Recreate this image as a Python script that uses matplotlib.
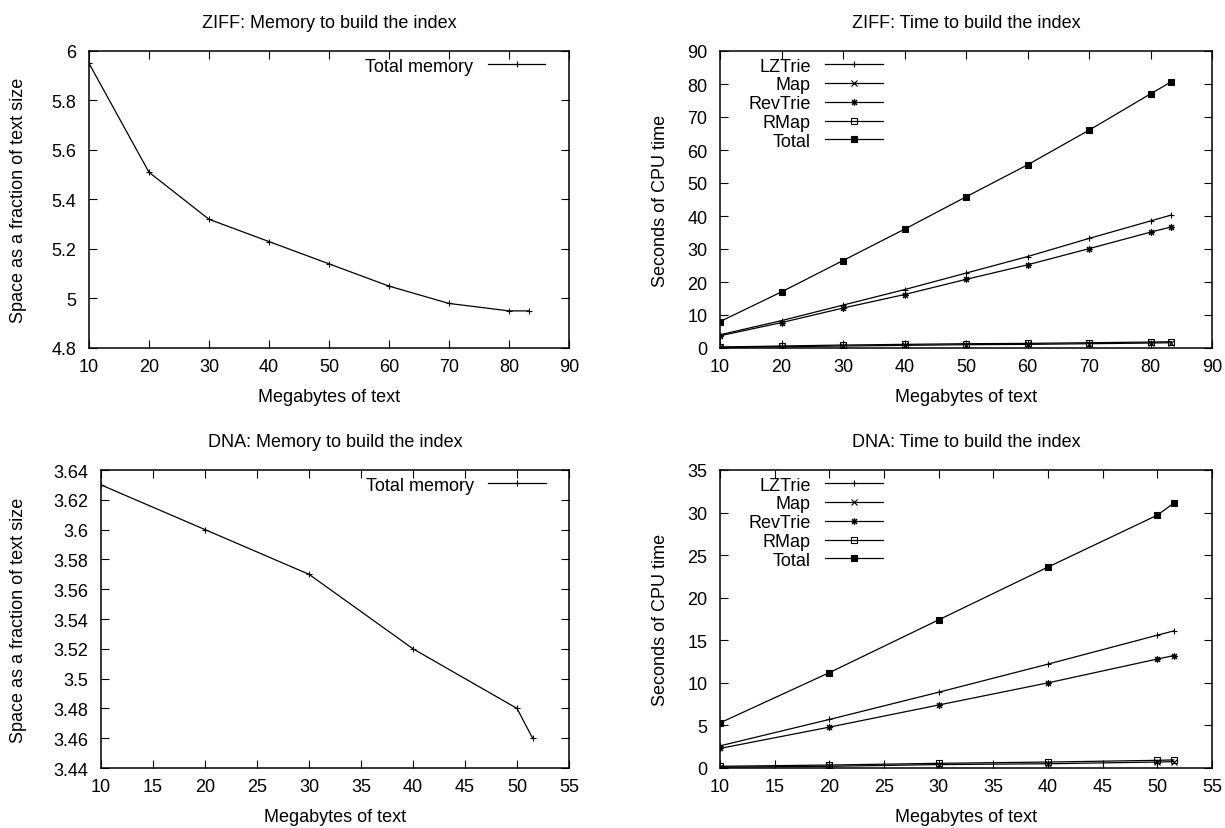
import numpy as np
import matplotlib
matplotlib.use("Agg")
import matplotlib.pyplot as plt
from matplotlib.ticker import FormatStrFormatter, MultipleLocator

plt.rcParams['font.family'] = ['Liberation Sans', 'DejaVu Sans']
plt.rcParams['font.size'] = 13

# ZIFF collection
ziff_mb = [10, 20, 30, 40, 50, 60, 70, 80, 83.4]
ziff_mem = [5.95, 5.51, 5.32, 5.23, 5.14, 5.05, 4.98, 4.95, 4.95]
ziff_lztrie = [4.0, 8.3, 13.0, 17.7, 22.7, 27.7, 33.2, 38.5, 40.3]
ziff_map = [0.2, 0.4, 0.6, 0.8, 1.0, 1.1, 1.3, 1.5, 1.6]
ziff_revtrie = [3.7, 7.7, 12.1, 16.2, 20.8, 25.2, 30.1, 35.1, 36.7]
ziff_rmap = [0.3, 0.6, 0.9, 1.1, 1.3, 1.4, 1.6, 1.8, 1.9]
ziff_total = [8.0, 17.0, 26.5, 36.0, 45.8, 55.5, 66.0, 77.0, 80.7]

# DNA collection
dna_mb = [10, 20, 30, 40, 50, 51.5]
dna_mem = [3.63, 3.60, 3.57, 3.52, 3.48, 3.46]
dna_lztrie = [2.6, 5.7, 8.9, 12.2, 15.6, 16.1]
dna_map = [0.1, 0.2, 0.4, 0.5, 0.7, 0.75]
dna_revtrie = [2.3, 4.8, 7.4, 10.0, 12.8, 13.2]
dna_rmap = [0.2, 0.35, 0.55, 0.7, 0.9, 0.95]
dna_total = [5.3, 11.2, 17.4, 23.6, 29.7, 31.1]

W, H = 1225, 829
fig = plt.figure(figsize=(W / 100, H / 100), dpi=100)


def px_axes(left, top, right, bottom):
    return fig.add_axes([left / W, 1 - bottom / H, (right - left) / W, (bottom - top) / H])


def style(ax, xlim, xstep, ylim, ystep, fmt):
    ax.set_xlim(*xlim)
    ax.set_ylim(*ylim)
    ax.xaxis.set_major_locator(MultipleLocator(xstep))
    ax.yaxis.set_major_locator(MultipleLocator(ystep))
    ax.yaxis.set_major_formatter(FormatStrFormatter(fmt))
    ax.tick_params(direction='in', length=6, width=0.8, top=True, right=True,
                   labelsize=13)
    ax.tick_params(axis='x', pad=7)
    ax.tick_params(axis='y', pad=9)
    for s in ax.spines.values():
        s.set_linewidth(1.1)


def mem_plot(ax, x, y, title, xlim, xstep, ylim, ystep, fmt, ylx):
    ax.plot(x, y, color='black', lw=0.9, marker='+', ms=5, mew=0.8, label='Total memory')
    style(ax, xlim, xstep, ylim, ystep, fmt)
    ax.set_title(title, fontsize=13, pad=17)
    ax.set_xlabel('Megabytes of text')
    ax.set_ylabel('Space as a fraction of text size')
    ax.xaxis.set_label_coords(0.5, -0.135)
    ax.yaxis.set_label_coords(ylx, 0.5)
    ax.legend(loc='upper right', bbox_to_anchor=(0.951, 0.978), frameon=False,
              markerfirst=False, handlelength=3.2, handletextpad=0.8,
              borderpad=0, borderaxespad=0, numpoints=1)


def time_plot(ax, x, lz, mp, rev, rm, tot, title, xlim, xstep, ylim, ystep):
    kw = dict(color='black', lw=0.9, mew=0.8)
    ax.plot(x, lz, marker='+', ms=5, label='LZTrie', **kw)
    ax.plot(x, mp, marker='x', ms=4, label='Map', **kw)
    ax.plot(x, rev, marker=(8, 2, 0), ms=5, label='RevTrie', **kw)
    ax.plot(x, rm, marker='s', ms=4, mfc='none', label='RMap', **kw)
    ax.plot(x, tot, marker='s', ms=4.5, label='Total', **kw)
    style(ax, xlim, xstep, ylim, ystep, '%g')
    ax.set_title(title, fontsize=13, pad=17)
    ax.set_xlabel('Megabytes of text')
    ax.set_ylabel('Seconds of CPU time')
    ax.xaxis.set_label_coords(0.5, -0.135)
    ax.yaxis.set_label_coords(-0.104, 0.5)
    ax.legend(loc='upper right', bbox_to_anchor=(0.331, 0.978), frameon=False,
              markerfirst=False, handlelength=3.2, handletextpad=0.8,
              labelspacing=0.1, borderpad=0, borderaxespad=0, numpoints=1)


ax1 = px_axes(89, 52, 569, 349)
mem_plot(ax1, ziff_mb, ziff_mem, 'ZIFF: Memory to build the index',
         (10, 90), 10, (4.8, 6.0), 0.2, '%g', -0.129)

ax2 = px_axes(720, 52, 1212, 349)
time_plot(ax2, ziff_mb, ziff_lztrie, ziff_map, ziff_revtrie, ziff_rmap, ziff_total,
          'ZIFF: Time to build the index', (10, 90), 10, (0, 90), 10)

ax3 = px_axes(101, 471, 569, 769)
mem_plot(ax3, dna_mb, dna_mem, 'DNA: Memory to build the index',
         (10, 55), 5, (3.44, 3.64), 0.02, '%g', -0.158)

ax4 = px_axes(720, 471, 1212, 769)
time_plot(ax4, dna_mb, dna_lztrie, dna_map, dna_revtrie, dna_rmap, dna_total,
          'DNA: Time to build the index', (10, 55), 5, (0, 35), 5)

fig.savefig('out.png', dpi=100)
